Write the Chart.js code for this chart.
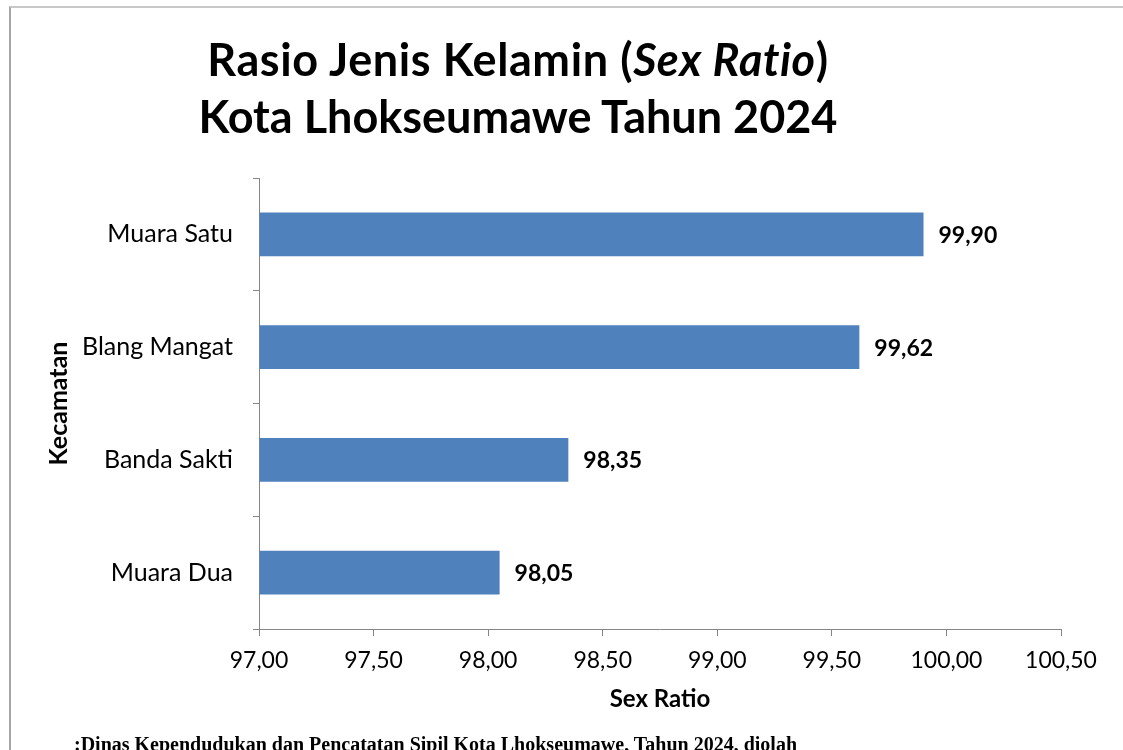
<!DOCTYPE html>
<html>
<head>
<meta charset="utf-8">
<script src="https://cdn.jsdelivr.net/npm/chart.js@4/dist/chart.umd.min.js"></script>
<style>
  html, body { margin: 0; padding: 0; background: #fff; }
  #wrap { position: relative; width: 1123px; height: 750px; overflow: hidden; }
  #frame {
    position: absolute; left: 9px; top: 6px; width: 1120px; height: 800px;
    border-left: 2px solid #a6a6a6; border-top: 2px solid #c8c8c8;
  }
  #title {
    position: absolute; left: 118px; width: 800px; top: 31px;
    text-align: center; font-family: Lato, sans-serif; font-weight: bold;
    font-size: 45px; line-height: 57px; color: #000;
  }
  #title .l1 { letter-spacing: 0.6px; }
  #source {
    position: absolute; left: 74px; top: 733px; white-space: nowrap;
    font-family: "Liberation Serif", serif; font-weight: bold; font-size: 20px; color: #000;
  }
  canvas { position: absolute; left: 0; top: 0; }
</style>
</head>
<body>
<div id="wrap">
  <div id="frame"></div>
  <canvas id="ratioChart" width="1123" height="750"></canvas>
  <div id="title"><span class="l1">Rasio Jenis Kelamin (<i>Sex Ratio</i>)</span><br>Kota Lhokseumawe Tahun 2024</div>
  <div id="source">:Dinas Kependudukan dan Pencatatan Sipil Kota Lhokseumawe, Tahun 2024, diolah</div>
</div>
<script>
const kecamatan = ['Muara Satu', 'Blang Mangat', 'Banda Sakti', 'Muara Dua'];
const sexRatio = [99.90, 99.62, 98.35, 98.05];
const xMin = 97.0;
const xMax = 100.5;
const xStep = 0.5;

// angka format indonesia
function koma(v){
  return Number(v).toFixed(2).replace('.', ',');
}

const fontFam = 'Lato, sans-serif';

// label nilai di ujung bar
const barLabels = {
  id: 'barLabels',
  afterDatasetsDraw(chart){
    const c = chart.ctx;
    const meta = chart.getDatasetMeta(0);
    c.save();
    c.font = 'bold 23px ' + fontFam;
    c.fillStyle = '#000';
    c.textAlign = 'left';
    c.textBaseline = 'middle';
    meta.data.forEach((bar, i) => {
      c.fillText(koma(sexRatio[i]), bar.x + 15, bar.y + 1);
    });
    c.restore();
  }
};

const ctx = document.getElementById('ratioChart');

new Chart(ctx, {
  type: 'bar',
  data: {
    labels: kecamatan,
    datasets: [{
      data: sexRatio,
      backgroundColor: '#4f81bd',
      borderWidth: 0,
      categoryPercentage: 1,
      barPercentage: 0.39,
      base: xMin
    }]
  },
  options: {
    indexAxis: 'y',
    responsive: false,
    animation: false,
    layout: { padding: { left: 18, right: 62, top: 178, bottom: 36 } },
    plugins: {
      legend: { display: false },
      tooltip: { enabled: false }
    },
    scales: {
      x: {
        min: xMin,
        max: xMax,
        afterFit(s){ s.height = 85; },
        ticks: {
          stepSize: xStep,
          color: '#000',
          font: { family: fontFam, size: 23 },
          padding: 11,
          callback: v => koma(v)
        },
        grid: { drawOnChartArea: false, drawTicks: true, tickLength: 7, color: '#868686' },
        border: { display: true, color: '#868686', width: 1 },
        title: {
          display: true,
          text: 'Sex Ratio',
          color: '#000',
          font: { family: fontFam, size: 24, weight: 'bold' },
          padding: { top: 0, bottom: 0 }
        }
      },
      y: {
        afterFit(s){ s.width = 241; },
        ticks: {
          color: '#000',
          font: { family: fontFam, size: 25 },
          padding: 20
        },
        grid: { drawOnChartArea: false, drawTicks: true, tickLength: 6, color: '#868686' },
        border: { display: true, color: '#868686', width: 1 },
        title: {
          display: true,
          text: 'Kecamatan',
          color: '#000',
          font: { family: fontFam, size: 25, weight: 'bold' },
          padding: { top: 26, bottom: 0 }
        }
      }
    }
  },
  plugins: [barLabels]
});
</script>
</body>
</html>
